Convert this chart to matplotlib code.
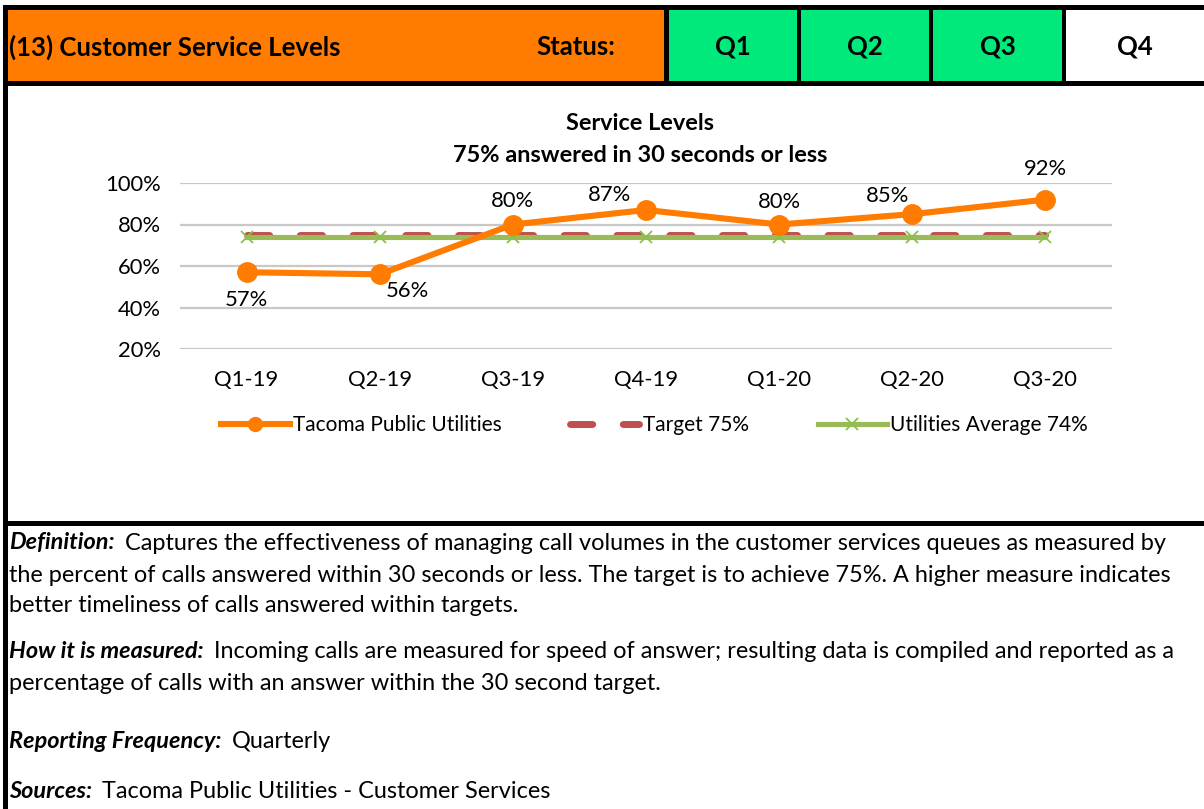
import matplotlib
matplotlib.use("Agg")
import matplotlib.pyplot as plt
from matplotlib.patches import Rectangle
from matplotlib.lines import Line2D
from matplotlib.textpath import TextPath
from matplotlib.font_manager import FontProperties

# ---------------- data ----------------
categories = ["Q1-19", "Q2-19", "Q3-19", "Q4-19", "Q1-20", "Q2-20", "Q3-20"]
tpu_values = [0.57, 0.56, 0.80, 0.87, 0.80, 0.85, 0.92]
target_values = [0.75] * 7
average_values = [0.74] * 7
yticks = [0.2, 0.4, 0.6, 0.8, 1.0]
series_names = ["Tacoma Public Utilities", "Target 75%", "Utilities Average 74%"]
quarters = ["Q1", "Q2", "Q3", "Q4"]
quarter_status = ["green", "green", "green", "none"]
title_lines = ["Service Levels", "75% answered in 30 seconds or less"]
header_title = "(13) Customer Service Levels"
status_label = "Status:"
notes = [
    ("Definition:", ["Captures the effectiveness of managing call volumes in the customer services queues as measured by",
                     "the percent of calls answered within 30 seconds or less. The target is to achieve 75%. A higher measure indicates",
                     "better timeliness of calls answered within targets."]),
    ("How it is measured:", ["Incoming calls are measured for speed of answer; resulting data is compiled and reported as a",
                             "percentage of calls with an answer within the 30 second target."]),
    ("Reporting Frequency:", ["Quarterly"]),
    ("Sources:", ["Tacoma Public Utilities - Customer Services"]),
]

W, H = 1204, 809
fig = plt.figure(figsize=(W / 100, H / 100), dpi=100)
fig.patch.set_facecolor("white")

BODY = "Lato"
ORANGE = "#FF7C00"
GREEN_CELL = "#00EA7B"
RED = "#C0504D"
GREEN_LINE = "#9BBB59"


def fit_size(text, target_px, weight="normal", style="normal"):
    """font size (pt) so that `text` is about target_px wide at 100 dpi"""
    fp = FontProperties(family=BODY, weight=weight, style=style, size=10)
    w = TextPath((0, 0), text, prop=fp).get_extents().width  # in points at size 10
    return 10 * (target_px * 0.72) / w


def fx(x):
    return x / W


def fy(y):
    return 1 - y / H


def rect(x0, y0, x1, y1, color):
    fig.patches.append(Rectangle((fx(x0), fy(y1)), fx(x1) - fx(x0), fy(y0) - fy(y1),
                                 transform=fig.transFigure, facecolor=color,
                                 edgecolor="none", zorder=0))


# ---------------- header ----------------
HEAD_SIZE = fit_size(header_title, 330, weight="bold")
rect(3, 5, W, 86, "black")
rect(8, 10, 664, 81, ORANGE)
cells = [(669, 797), (801, 929), (933, 1062), (1066, W)]
for (x0, x1), q, st in zip(cells, quarters, quarter_status):
    rect(x0, 10, x1, 81, GREEN_CELL if st == "green" else "white")
    fig.text(fx((x0 + x1) / 2), fy(47), q, ha="center", va="center",
             fontsize=HEAD_SIZE, fontweight="bold", family=BODY)
fig.text(fx(9), fy(47), header_title, ha="left", va="center",
         fontsize=HEAD_SIZE, fontweight="bold", family=BODY)
fig.text(fx(615), fy(47), status_label, ha="right", va="center",
         fontsize=HEAD_SIZE, fontweight="bold", family=BODY)

# borders
rect(3, 86, 8, H, "black")
rect(3, 521, W, 526, "black")

# ---------------- chart ----------------
TICK_SIZE = fit_size("100%", 53)
LABEL_SIZE = TICK_SIZE
LEG_SIZE = fit_size(series_names[0], 208)
TITLE_SIZE = fit_size(title_lines[1], 372, weight="bold")

ax = fig.add_axes([fx(180), fy(349), fx(1112) - fx(180), fy(183) - fy(349)])
ax.set_facecolor("none")
x = list(range(len(categories)))
ax.set_xlim(-0.5, len(categories) - 0.5)
ax.set_ylim(0.2, 1.0)
ax.set_yticks(yticks)
ax.set_yticklabels([f"{int(round(v * 100))}%" for v in yticks])
ax.set_xticks(x)
ax.set_xticklabels(categories)
for s in ax.spines.values():
    s.set_visible(False)
ax.tick_params(length=0, labelsize=TICK_SIZE, pad=14)
ax.tick_params(axis="x", pad=15)
for lab in ax.get_xticklabels() + ax.get_yticklabels():
    lab.set_family(BODY)
ax.grid(axis="y", color="#C8C8C8", linewidth=1.6)
ax.set_axisbelow(True)

ax.plot(x, target_values, color=RED, linewidth=5.0, dashes=(3.2, 4.4),
        dash_capstyle="round", label=series_names[1], zorder=2)
ax.plot(x, average_values, color=GREEN_LINE, linewidth=3.7, marker="x",
        markersize=9, markeredgewidth=1.3, markeredgecolor="#8DC04A",
        label=series_names[2], zorder=3)
ax.plot(x, tpu_values, color=ORANGE, linewidth=4.4, marker="o",
        markersize=14, label=series_names[0], zorder=4)

# data labels (offsets in points)
label_offsets = [(0, -20), (20, -12), (0, 17), (-26, 11), (0, 16), (-18, 13), (0, 22)]
for xi, v, (dx, dy) in zip(x, tpu_values, label_offsets):
    ax.annotate(f"{int(round(v * 100))}%", (xi, v), xytext=(dx, dy),
                textcoords="offset points", ha="center", va="center",
                fontsize=LABEL_SIZE, family=BODY, zorder=5)

# title
fig.text(fx(640), fy(123), title_lines[0], ha="center", va="center",
         fontsize=TITLE_SIZE, fontweight="bold", family=BODY)
fig.text(fx(640), fy(155), title_lines[1], ha="center", va="center",
         fontsize=TITLE_SIZE, fontweight="bold", family=BODY)

# legend
handles = [
    Line2D([], [], color=ORANGE, linewidth=4.4, marker="o", markersize=10),
    Line2D([], [], color=RED, linewidth=5.0, dashes=(3.2, 4.4), dash_capstyle="round"),
    Line2D([], [], color=GREEN_LINE, linewidth=3.7, marker="x", markersize=8,
           markeredgewidth=1.3, markeredgecolor="#8DC04A"),
]
leg = fig.legend(handles, series_names, loc="center", bbox_to_anchor=(fx(654), fy(425)),
                 ncol=3, frameon=False, handlelength=3.3, handletextpad=0.15,
                 columnspacing=3.3, prop={"family": BODY, "size": LEG_SIZE})

# ---------------- notes ----------------
NOTE_SIZE = fit_size(notes[0][1][1], 1160)
renderer = fig.canvas.get_renderer()
line_ys = [[543, 575, 606], [651, 683], [742], [792]]
for (head, lines), ys in zip(notes, line_ys):
    t = fig.text(fx(9), fy(ys[0]), head, ha="left", va="center", fontsize=NOTE_SIZE,
                 fontweight="bold", fontstyle="italic", family=BODY)
    bb = t.get_window_extent(renderer)
    fig.text(bb.x1 / W + fx(10), fy(ys[0]), lines[0], ha="left", va="center",
             fontsize=NOTE_SIZE, family=BODY)
    for ln, yy in zip(lines[1:], ys[1:]):
        fig.text(fx(9), fy(yy), ln, ha="left", va="center", fontsize=NOTE_SIZE, family=BODY)

fig.savefig("out.png", dpi=100)
